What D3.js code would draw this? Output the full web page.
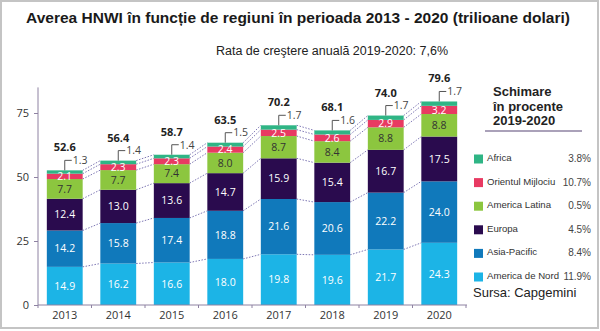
<!DOCTYPE html>
<html>
<head>
<meta charset="utf-8">
<script src="https://cdn.jsdelivr.net/npm/d3@7"></script>
<style>
  html, body { margin: 0; padding: 0; background: #fff; }
  svg { display: block; }
</style>
</head>
<body>
<svg id="chart" width="600" height="331"></svg>
<script>
// Years on the x axis
const years = ["2013", "2014", "2015", "2016", "2017", "2018", "2019", "2020"];

// HNWI wealth by region, trillions of dollars (bottom to top of each stack)
const americaDeNord   = [14.9, 16.2, 16.6, 18.0, 19.8, 19.6, 21.7, 24.3];
const asiaPacific     = [14.2, 15.8, 17.4, 18.8, 21.6, 20.6, 22.2, 24.0];
const europa          = [12.4, 13.0, 13.6, 14.7, 15.9, 15.4, 16.7, 17.5];
const americaLatina   = [7.7, 7.7, 7.4, 8.0, 8.7, 8.4, 8.8, 8.8];
const orientulMijlociu = [2.1, 2.3, 2.3, 2.4, 2.5, 2.6, 2.9, 3.2];
const africa          = [1.3, 1.4, 1.4, 1.5, 1.7, 1.6, 1.7, 1.7];

// Totals printed above the bars
const totals = [52.6, 56.4, 58.7, 63.5, 70.2, 68.1, 74.0, 79.6];

// Change 2019-2020 per region (legend, top to bottom)
const legendNames = ["Africa", "Orientul Mijlociu", "America Latina", "Europa", "Asia-Pacific", "America de Nord"];
const legendChange = ["3.8%", "10.7%", "0.5%", "4.5%", "8.4%", "11.9%"];

const yTicks = [0, 25, 50, 75];

const seriesKeys = ["nord", "asia", "europa", "latina", "orient", "africa"];
const seriesValues = [americaDeNord, asiaPacific, europa, americaLatina, orientulMijlociu, africa];
const colors = {
  nord: "#1cb4e6",
  asia: "#1079bb",
  europa: "#2a0b4e",
  latina: "#8cc63f",
  orient: "#e83a62",
  africa: "#2fb585"
};
const labelColors = {
  nord: "#ffffff", asia: "#ffffff", europa: "#ffffff",
  latina: "#333333", orient: "#ffffff", africa: "#333333"
};

const table = years.map((y, i) => {
  const row = { year: y };
  seriesKeys.forEach((k, j) => { row[k] = seriesValues[j][i]; });
  return row;
});

const svg = d3.select("#chart");
const chartFont = "'Open Sans', 'Noto Sans', sans-serif";
const headFont = "'Liberation Sans', Arial, sans-serif";
const axisColor = "#8e82a2";

// Frame
svg.append("rect")
  .attr("x", 1).attr("y", 1).attr("width", 597).attr("height", 327)
  .attr("fill", "#fff").attr("stroke", "#c4c4c4").attr("stroke-width", 2);

// Titles
svg.append("text")
  .attr("x", 298).attr("y", 23)
  .attr("text-anchor", "middle")
  .attr("font-family", headFont).attr("font-weight", "bold").attr("font-size", 15.5)
  .attr("fill", "#1a1a1a")
  .text("Averea HNWI în funcție de regiuni în perioada 2013 - 2020 (trilioane dolari)");

svg.append("text")
  .attr("x", 332).attr("y", 55)
  .attr("text-anchor", "middle")
  .attr("font-family", headFont).attr("font-size", 12.5)
  .attr("fill", "#222")
  .text("Rata de creştere anuală 2019-2020: 7,6%");

// Scales
const x = d3.scaleBand().domain(years).range([38, 466]).paddingInner(0.33).paddingOuter(0.165);
const y = d3.scaleLinear().domain([0, 85]).range([305, 87.4]);

const stack = d3.stack().keys(seriesKeys);
const layers = stack(table);

// Dotted connectors between neighbouring bars at each stack boundary
const conn = svg.append("g");
layers.forEach(layer => {
  for (let i = 0; i < years.length - 1; i++) {
    conn.append("line")
      .attr("x1", x(years[i]) + x.bandwidth())
      .attr("y1", y(layer[i][1]))
      .attr("x2", x(years[i + 1]))
      .attr("y2", y(layer[i + 1][1]))
      .attr("stroke", "#6f68ab")
      .attr("stroke-width", 0.9)
      .attr("stroke-dasharray", "1.5,1.5");
  }
});

// Bars
const bars = svg.append("g");
layers.forEach(layer => {
  bars.selectAll(null)
    .data(layer)
    .join("rect")
    .attr("x", d => x(d.data.year))
    .attr("y", d => y(d[1]))
    .attr("width", x.bandwidth())
    .attr("height", d => y(d[0]) - y(d[1]))
    .attr("fill", colors[layer.key]);
});

// Segment values (Africa is labelled with a leader instead)
layers.filter(l => l.key !== "africa").forEach(layer => {
  svg.append("g").selectAll("text")
    .data(layer)
    .join("text")
    .attr("x", d => x(d.data.year) + x.bandwidth() / 2)
    .attr("y", d => (y(d[0]) + y(d[1])) / 2)
    .attr("dy", "0.36em")
    .attr("text-anchor", "middle")
    .attr("font-family", chartFont)
    .attr("font-size", 10.5)
    .attr("fill", labelColors[layer.key])
    .text(d => d.data[layer.key].toFixed(1));
});

// Africa leaders
const topLayer = layers[layers.length - 1];
const lead = svg.append("g");
topLayer.forEach((d, i) => {
  const cx = x(d.data.year) + x.bandwidth() / 2;
  const ty = y(d[1]);
  lead.append("path")
    .attr("d", `M${cx},${ty} V${ty - 10} H${cx + 7}`)
    .attr("fill", "none").attr("stroke", "#555").attr("stroke-width", 1);
  lead.append("text")
    .attr("x", cx + 8).attr("y", ty - 10).attr("dy", "0.36em")
    .attr("font-family", chartFont).attr("font-size", 10.5)
    .attr("fill", "#444")
    .text(africa[i].toFixed(1));
});

// Totals
svg.append("g").selectAll("text")
  .data(topLayer)
  .join("text")
  .attr("x", d => x(d.data.year) + x.bandwidth() / 2)
  .attr("y", (d, i) => y(d[1]) - 19)
  .attr("text-anchor", "middle")
  .attr("font-family", chartFont).attr("font-weight", "bold").attr("font-size", 11)
  .attr("fill", "#222")
  .text((d, i) => totals[i].toFixed(1));

// Y axis
const yAxis = svg.append("g").attr("transform", "translate(38,0)")
  .call(d3.axisLeft(y).tickValues(yTicks).tickSize(4).tickPadding(5).tickSizeOuter(0));
yAxis.select(".domain").attr("stroke", axisColor).attr("d", `M0,${y(85)}V${y(0)}`);
yAxis.selectAll(".tick line").attr("stroke", axisColor);
yAxis.selectAll(".tick text").attr("font-family", chartFont).attr("font-size", 11).attr("fill", "#333");

// X axis: ticks at band boundaries
const xg = svg.append("g").attr("transform", `translate(0,${y(0)})`);
xg.append("line").attr("x1", 38).attr("x2", 467).attr("y1", 0).attr("y2", 0)
  .attr("stroke", axisColor).attr("stroke-width", 1);
const boundaries = years.map(yr => x(yr) - x.step() * x.paddingInner() / 2).concat([466]);
xg.selectAll("line.tk").data(boundaries).join("line")
  .attr("class", "tk")
  .attr("x1", d => d).attr("x2", d => d).attr("y1", 0).attr("y2", 3)
  .attr("stroke", axisColor);
xg.selectAll("text").data(years).join("text")
  .attr("x", d => x(d) + x.bandwidth() / 2)
  .attr("y", 14)
  .attr("text-anchor", "middle")
  .attr("font-family", chartFont).attr("font-size", 11)
  .attr("fill", "#333")
  .text(d => d);

// Legend
const lg = svg.append("g");
["Schimare", "în procente", "2019-2020"].forEach((t, i) => {
  lg.append("text")
    .attr("x", 493).attr("y", 96 + i * 14.5)
    .attr("font-family", headFont).attr("font-weight", "bold").attr("font-size", 13)
    .attr("fill", "#222").text(t);
});
lg.append("line").attr("x1", 485).attr("x2", 582).attr("y1", 131).attr("y2", 131)
  .attr("stroke", axisColor).attr("stroke-width", 1.5);

const legendKeys = ["africa", "orient", "latina", "europa", "asia", "nord"];
const ly = d3.scalePoint().domain(legendNames).range([159, 277]);
legendNames.forEach((name, i) => {
  const cy = ly(name);
  lg.append("rect").attr("x", 474).attr("y", cy - 4.5).attr("width", 9).attr("height", 9)
    .attr("fill", colors[legendKeys[i]]);
  lg.append("text").attr("x", 487).attr("y", cy + 2)
    .attr("font-family", headFont).attr("font-size", 9.6).attr("fill", "#333").text(name);
  lg.append("text").attr("x", 591).attr("y", cy + 3).attr("text-anchor", "end")
    .attr("font-family", headFont).attr("font-size", 10).attr("fill", "#444").text(legendChange[i]);
});
lg.append("text").attr("x", 473).attr("y", 297)
  .attr("font-family", headFont).attr("font-size", 13).attr("fill", "#222")
  .text("Sursa: Capgemini");
</script>
</body>
</html>
